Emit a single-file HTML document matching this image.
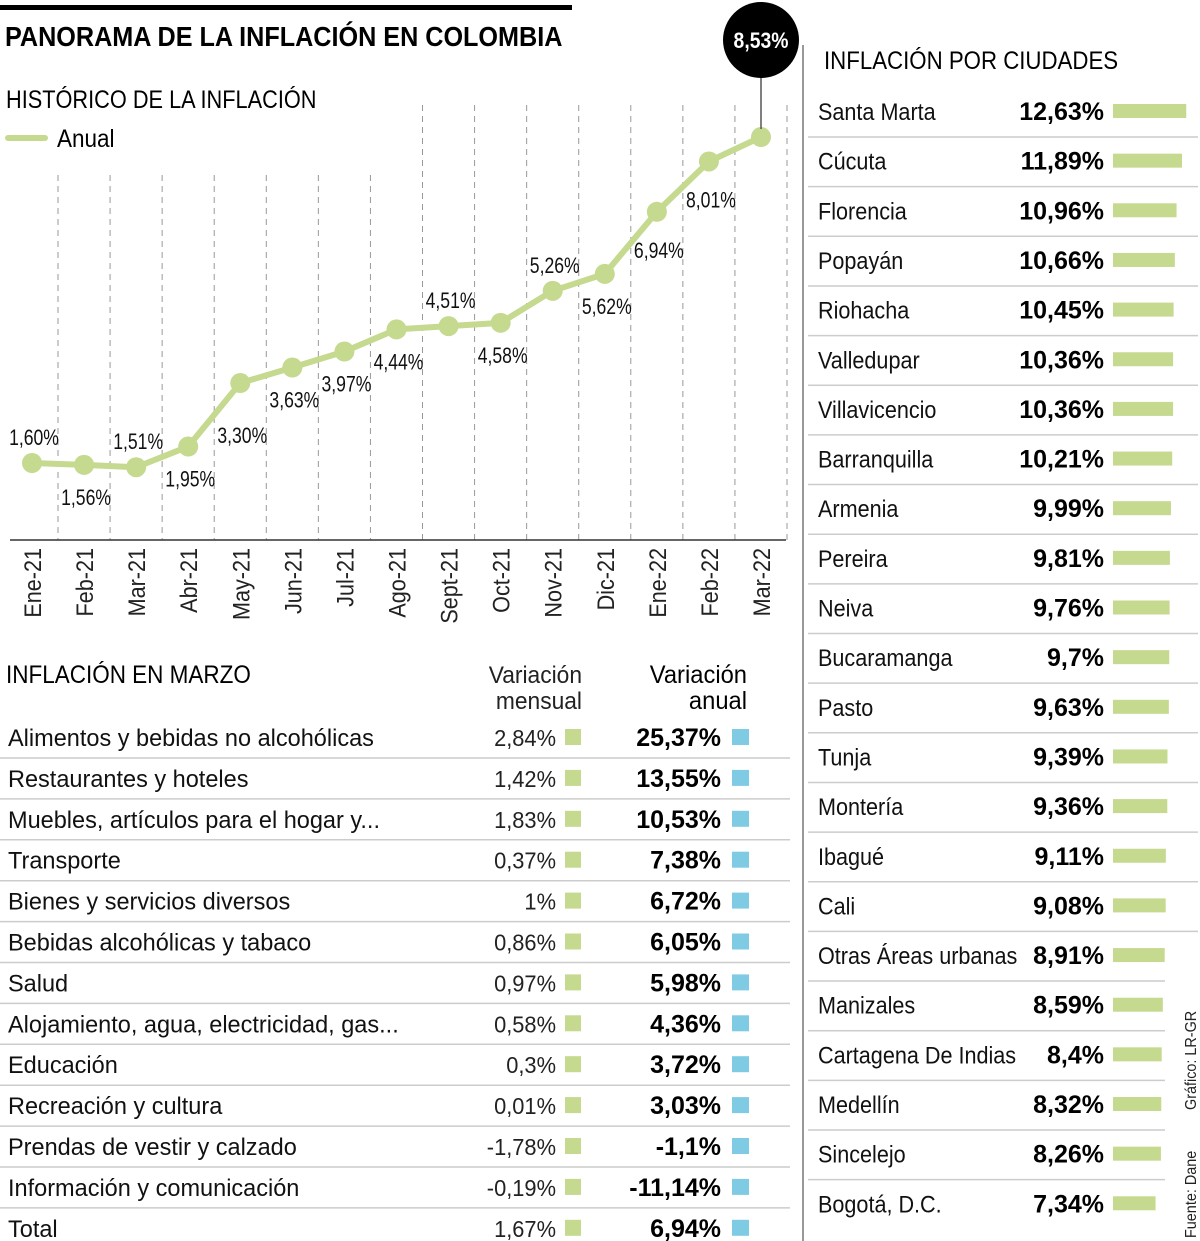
<!DOCTYPE html>
<html><head><meta charset="utf-8"><style>
html,body{margin:0;padding:0;background:#fff;}
svg{display:block;font-family:"Liberation Sans",sans-serif;}
.b{font-weight:bold;}
</style></head><body>
<svg id="s" width="1200" height="1241" viewBox="0 0 1200 1241">
<rect x="0" y="5" width="572" height="5" fill="#000"/>
<text transform="translate(5,46) scale(0.9,1)" font-size="28" font-weight="bold">PANORAMA DE LA INFLACIÓN EN COLOMBIA</text>
<text transform="translate(6,108) scale(0.87,1)" font-size="25">HISTÓRICO DE LA INFLACIÓN</text>
<line x1="8" y1="138" x2="45" y2="138" stroke="#c5d98f" stroke-width="6" stroke-linecap="round"/>
<text transform="translate(57,147) scale(0.9,1)" font-size="25">Anual</text>
<g id="chart"></g>
<text transform="translate(6,683) scale(0.9,1)" font-size="25">INFLACIÓN EN MARZO</text>
<text transform="translate(582,683) scale(0.95,1)" font-size="24" text-anchor="end" fill="#222">Variación</text>
<text transform="translate(582,709) scale(0.95,1)" font-size="24" text-anchor="end" fill="#222">mensual</text>
<text transform="translate(747,683) scale(0.95,1)" font-size="25" text-anchor="end">Variación</text>
<text transform="translate(747,709) scale(0.95,1)" font-size="25" text-anchor="end">anual</text>
<g id="table"></g>
<line x1="803" y1="45" x2="803" y2="1241" stroke="#999" stroke-width="2"/>
<text transform="translate(824,69) scale(0.89,1)" font-size="25">INFLACIÓN POR CIUDADES</text>
<g id="cities"></g>
<text transform="translate(1196,1110) rotate(-90) scale(0.9,1)" font-size="16" fill="#222">Gráfico: LR-GR</text>
<text transform="translate(1196,1238) rotate(-90) scale(0.9,1)" font-size="16" fill="#222">Fuente: Dane</text>
</svg>
<script>
const months=["Ene-21","Feb-21","Mar-21","Abr-21","May-21","Jun-21","Jul-21","Ago-21","Sept-21","Oct-21","Nov-21","Dic-21","Ene-22","Feb-22","Mar-22"];
const anual=[1.60,1.56,1.51,1.95,3.30,3.63,3.97,4.44,4.51,4.58,5.26,5.62,6.94,8.01,8.53];
const labelPos=["a","b","a","b","b","b","b","b","a","b","a","b","b","b","top"];
const catNames=["Alimentos y bebidas no alcohólicas","Restaurantes y hoteles","Muebles, artículos para el hogar y...","Transporte","Bienes y servicios diversos","Bebidas alcohólicas y tabaco","Salud","Alojamiento, agua, electricidad, gas...","Educación","Recreación y cultura","Prendas de vestir y calzado","Información y comunicación","Total"];
const mensual=["2,84%","1,42%","1,83%","0,37%","1%","0,86%","0,97%","0,58%","0,3%","0,01%","-1,78%","-0,19%","1,67%"];
const anualCat=["25,37%","13,55%","10,53%","7,38%","6,72%","6,05%","5,98%","4,36%","3,72%","3,03%","-1,1%","-11,14%","6,94%"];
const cities=["Santa Marta","Cúcuta","Florencia","Popayán","Riohacha","Valledupar","Villavicencio","Barranquilla","Armenia","Pereira","Neiva","Bucaramanga","Pasto","Tunja","Montería","Ibagué","Cali","Otras Áreas urbanas","Manizales","Cartagena De Indias","Medellín","Sincelejo","Bogotá, D.C."];
const cityVals=[12.63,11.89,10.96,10.66,10.45,10.36,10.36,10.21,9.99,9.81,9.76,9.7,9.63,9.39,9.36,9.11,9.08,8.91,8.59,8.4,8.32,8.26,7.34];

const NS="http://www.w3.org/2000/svg";
function mk(tag,attrs,parent,txt){const e=document.createElementNS(NS,tag);for(const k in attrs)e.setAttribute(k,attrs[k]);if(txt!==undefined)e.textContent=txt;parent.appendChild(e);return e;}
function tx(x,y,sx,attrs,parent,txt,rot){attrs.transform=`translate(${x},${y})`+(rot?` rotate(${rot})`:'')+` scale(${sx},1)`;return mk('text',attrs,parent,txt);}
const fmt=v=>v.toFixed(2).replace('.',',')+'%';
const xS=i=>32+i*(761-32)/(months.length-1);
const yS=v=>463-(v-1.6)*47.04;
const g=document.getElementById('chart');
for(let i=0;i<months.length;i++){
  const x=xS(i)+26;
  const l=mk('line',{x1:x,y1:x<400?175:105,x2:x,y2:540,stroke:'#999','stroke-width':1,'stroke-dasharray':'6,5'},g);
  
  
}
const ax=mk('line',{x1:10,y1:540,x2:786,y2:540,stroke:'#333','stroke-width':1.5},g);


months.forEach((m,i)=>{
  const t=tx(xS(i)+9,548,0.9,{'text-anchor':'end','font-size':24,fill:'#222'},g,m,-90);
  
  
});
const pts=anual.map((v,i)=>xS(i)+','+yS(v)).join(' ');
const pl=mk('polyline',{points:pts,fill:'none',stroke:'#c5d98f','stroke-width':6,'stroke-linejoin':'round'},g);


anual.forEach((v,i)=>{
  const x=xS(i),y=yS(v);
  const c=mk('circle',{cx:x,cy:y,r:10,fill:'#c5d98f'},g);
  
  
  if(labelPos[i]==='top'){
    const ln=mk('line',{x1:x,y1:78,x2:x,y2:y-8,stroke:'#555','stroke-width':1.5},g);
    
    
    const bc=mk('circle',{cx:x,cy:40,r:38,fill:'#000'},g);
    
    
    const t=tx(x,48,0.88,{'text-anchor':'middle','font-size':22,'font-weight':'bold',fill:'#fff'},g,fmt(v));
    
    
  } else {
    const dy=labelPos[i]==='a'?-18:(i===4?60:(i>=12?46:40));
    const t=tx(x+2,y+dy,0.8,{'text-anchor':'middle','font-size':22,fill:'#111'},g,fmt(v));
    
    
  }
});
const tb=document.getElementById('table');
catNames.forEach((n,i)=>{
  const cy=737+i*40.9;
  const a=tx(8,cy+9,0.98,{'font-size':24,fill:'#111'},tb,n);
  
  
  const b=tx(556,cy+9,0.95,{'font-size':23,'text-anchor':'end',fill:'#222'},tb,mensual[i]);
  
  
  const s1=mk('rect',{x:565,y:cy-8,width:16,height:16,fill:'#c5d98f'},tb);
  
  
  const c=tx(721,cy+9,1,{'font-size':25,'text-anchor':'end',class:'b',fill:'#000'},tb,anualCat[i]);
  
  
  const s2=mk('rect',{x:732,y:cy-8,width:17,height:16,fill:'#7fcbe3'},tb);
  
  
  if(i<catNames.length-1){
    const l=mk('line',{x1:0,y1:cy+21,x2:790,y2:cy+21,stroke:'#ccc','stroke-width':1.5},tb);
    
    
  }
});
const cg=document.getElementById('cities');
cities.forEach((n,i)=>{
  const cy=111+i*49.65;
  const a=tx(818,cy+9,0.9,{'font-size':24,fill:'#111'},cg,n);
  
  
  const b=tx(1104,cy+9,1,{'font-size':25,'text-anchor':'end',class:'b',fill:'#000'},cg,String(cityVals[i]).replace('.',',')+'%');
  
  
  const r=mk('rect',{x:1113,y:cy-7,width:cityVals[i]*5.8,height:14,fill:'#c5d98f'},cg);
  
  
  if(i<cities.length-1){
    const l=mk('line',{x1:808,y1:cy+26,x2:i>=17?1165:1198,y2:cy+26,stroke:'#ccc','stroke-width':1.5},cg);
    
    
  }
});
</script>
</body></html>
